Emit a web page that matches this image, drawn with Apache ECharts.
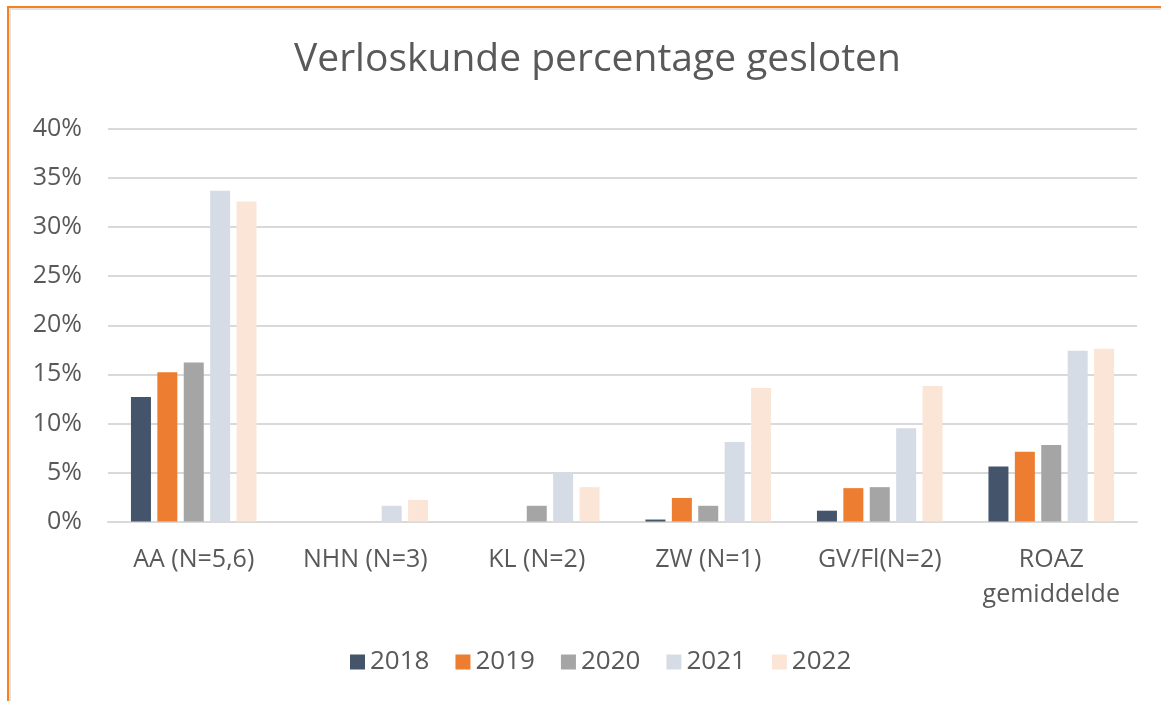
<!DOCTYPE html>
<html>
<head>
<meta charset="utf-8">
<script src="https://cdn.jsdelivr.net/npm/echarts@6/dist/echarts.min.js"></script>
<style>
  html, body { margin: 0; padding: 0; background: #fff; }
  #chart { position: absolute; left: 0; top: 0; width: 1161px; height: 701px; }
  .frame-top { position: absolute; left: 7px; top: 6px; width: 1154px; height: 2px; background: #F5821F; }
  .frame-left { position: absolute; left: 7px; top: 6px; width: 2px; height: 695px; background: #F5821F; }
  .inner-top { position: absolute; left: 9px; top: 8px; width: 1152px; height: 2px; background: #e2e2e2; }
  .inner-left { position: absolute; left: 9px; top: 8px; width: 2px; height: 693px; background: #e2e2e2; }
</style>
</head>
<body>
<div id="chart"></div>
<div class="frame-top"></div>
<div class="frame-left"></div>
<div class="inner-top"></div>
<div class="inner-left"></div>
<script>
const categories = ['AA (N=5,6)', 'NHN (N=3)', 'KL (N=2)', 'ZW (N=1)', 'GV/Fl(N=2)', 'ROAZ\ngemiddelde'];
const years = ['2018', '2019', '2020', '2021', '2022'];
const v2018 = [0.127, 0, 0, 0.002, 0.011, 0.056];
const v2019 = [0.152, 0, 0, 0.024, 0.034, 0.071];
const v2020 = [0.162, 0, 0.016, 0.016, 0.035, 0.078];
const v2021 = [0.337, 0.016, 0.050, 0.081, 0.095, 0.174];
const v2022 = [0.326, 0.022, 0.035, 0.136, 0.138, 0.176];
const yTicks = [0, 0.05, 0.10, 0.15, 0.20, 0.25, 0.30, 0.35, 0.40];

const colors = ['#44546A', '#ED7D31', '#A5A5A5', '#D6DCE5', '#FBE5D6'];
const values = [v2018, v2019, v2020, v2021, v2022];
const font = '"Open Sans", "Liberation Sans", sans-serif';

const chart = echarts.init(document.getElementById('chart'), null, { renderer: 'canvas' });
chart.setOption({
  animation: false,
  color: colors,
  title: {
    text: 'Verloskunde percentage gesloten',
    left: 289,
    top: 35,
    textStyle: { fontFamily: font, fontSize: 39, fontWeight: 'normal', color: '#595959' }
  },
  legend: {
    data: years,
    top: 644,
    left: 345,
    itemWidth: 15,
    itemHeight: 15,
    itemGap: 26,
    icon: 'rect',
    textStyle: { fontFamily: font, fontSize: 26, color: '#595959' }
  },
  grid: { left: 108, right: 24, top: 129, bottom: 179.5, containLabel: false },
  xAxis: {
    type: 'category',
    data: categories,
    axisLine: { lineStyle: { color: '#D9D9D9', width: 2 } },
    axisTick: { show: false },
    axisLabel: {
      fontFamily: font, fontSize: 25, color: '#595959', margin: 21, lineHeight: 35, interval: 0
    }
  },
  yAxis: {
    type: 'value',
    min: yTicks[0],
    max: yTicks[yTicks.length - 1],
    interval: 0.05,
    axisLine: { show: false },
    axisTick: { show: false },
    splitLine: { lineStyle: { color: '#D9D9D9', width: 2 } },
    axisLabel: {
      fontFamily: font, fontSize: 25, color: '#595959', margin: 26,
      formatter: v => Math.round(v * 100) + '%'
    }
  },
  series: years.map((y, i) => ({
    name: y,
    type: 'bar',
    data: values[i],
    barWidth: 20,
    barGap: '32%',
    itemStyle: { color: colors[i] }
  }))
});
</script>
</body>
</html>
